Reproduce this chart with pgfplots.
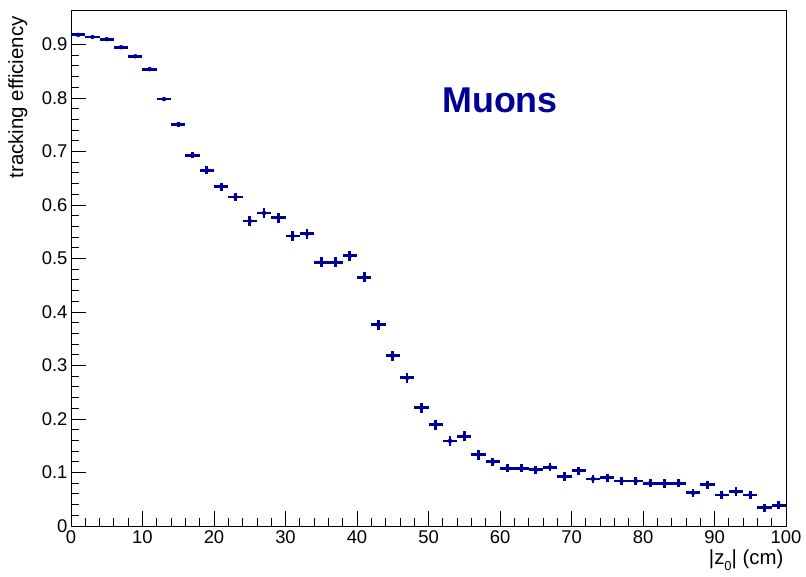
\documentclass[border=0pt]{standalone}
\usepackage{fontspec}
\setmainfont{Liberation Sans}
\usepackage{pgfplots}
\pgfplotsset{compat=1.18}
\definecolor{rootblue}{RGB}{0,0,153}

\pgfplotstableread{
x y ey
1 0.918 0.001
3 0.914 0.001
5 0.910 0.001
7 0.895 0.001
9 0.878 0.002
11 0.854 0.003
13 0.798 0.004
15 0.751 0.005
17 0.693 0.006
19 0.665 0.007
21 0.634 0.008
23 0.615 0.008
25 0.570 0.009
27 0.585 0.009
29 0.576 0.009
31 0.542 0.009
33 0.546 0.009
35 0.493 0.009
37 0.493 0.009
39 0.505 0.009
41 0.465 0.009
43 0.376 0.009
45 0.318 0.009
47 0.277 0.009
49 0.221 0.009
51 0.189 0.009
53 0.159 0.009
55 0.168 0.009
57 0.133 0.009
59 0.120 0.008
61 0.108 0.008
63 0.108 0.008
65 0.105 0.008
67 0.110 0.008
69 0.092 0.008
71 0.103 0.008
73 0.088 0.008
75 0.090 0.008
77 0.084 0.008
79 0.084 0.008
81 0.080 0.008
83 0.079 0.008
85 0.080 0.008
87 0.062 0.008
89 0.077 0.008
91 0.058 0.008
93 0.064 0.008
95 0.058 0.008
97 0.034 0.007
99 0.039 0.007
}\effdata

\begin{document}
\begin{tikzpicture}
\begin{axis}[
    scale only axis,
    width=715bp, height=516bp,
    xmin=0, xmax=100, ymin=0, ymax=0.9645,
    axis line style={black, line width=0.8bp},
    tick style={black, line width=0.8bp},
    tick align=inside,
    xtick pos=bottom, ytick pos=left,
    xtick={0,10,...,100},
    ytick={0,0.1,...,0.9},
    minor x tick num=4,
    minor y tick num=4,
    major tick length=15bp,
    minor tick length=8bp,
    yticklabel style={/pgf/number format/fixed, /pgf/number format/precision=1},
    /pgf/number format/assume math mode=true,
    ticklabel style={font=\fontsize{18.5}{21}\selectfont},
    xticklabel style={yshift=-1bp},
    xlabel={|z\raisebox{-6bp}{\fontsize{13}{15}\selectfont 0}| (cm)},
    ylabel={tracking efficiency},
    label style={font=\fontsize{20.5}{23}\selectfont},
    xlabel style={at={(axis description cs:1,0)}, anchor=north east, yshift=-20bp, xshift=1bp},
    ylabel style={at={(axis description cs:0,1)}, anchor=south east, xshift=-3bp, yshift=40bp},
    clip=false,
]
\addplot[only marks, mark=none, color=rootblue,
    error bars/.cd,
    x dir=both, x fixed=1,
    y dir=both, y explicit,
    error mark=none,
    error bar style={line width=2.8bp, color=rootblue},
] table[x=x, y=y, y error=ey] {\effdata};
\node[font=\fontsize{36}{40}\selectfont\bfseries, text=rootblue] at (axis cs:60,0.795) {Muons};
\end{axis}
\pgfresetboundingbox
\path (-71bp,-51bp) rectangle (735bp,526bp);
\end{tikzpicture}
\end{document}
